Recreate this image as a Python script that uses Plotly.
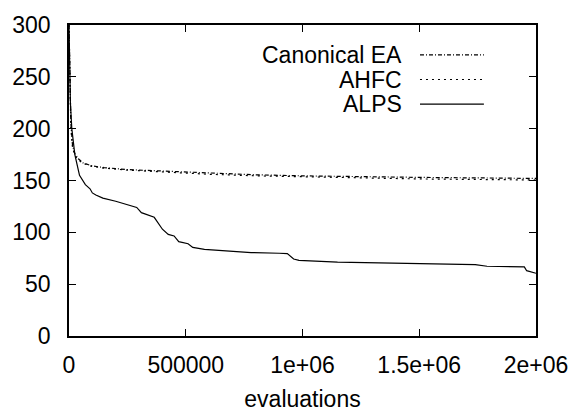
import plotly.graph_objects as go

# Best-so-far fitness versus number of evaluations
evals_ea = [0, 3000, 8000, 15000, 25000, 40000, 60000, 100000, 150000, 250000,
            400000, 600000, 800000, 1000000, 1250000, 1500000, 1750000, 2000000]
canonical_ea = [300, 250, 205, 184, 176, 171, 167, 164, 162.5, 160.5,
                159, 157, 155.5, 154.5, 153.5, 153, 152.5, 152]

evals_ahfc = [0, 3000, 8000, 15000, 25000, 40000, 60000, 100000, 150000, 250000,
              400000, 600000, 800000, 1000000, 1250000, 1500000, 1750000, 2000000]
ahfc = [300, 248, 200, 182, 174, 170, 166.5, 163.5, 162, 160,
        158, 156, 154.5, 153.5, 152.5, 151.5, 151, 150.5]

evals_alps = [0, 2000, 6000, 12000, 25000, 45000, 70000, 90000, 100000, 115000,
              145000, 200000, 260000, 290000, 310000, 345000, 365000, 400000,
              425000, 450000, 470000, 510000, 530000, 580000, 650000, 750000,
              780000, 900000, 935000, 962000, 985000, 1150000, 1450000, 1740000,
              1790000, 1950000, 1960000, 1985000, 2000000]
alps = [300, 260, 225, 200, 175, 155, 146, 142, 138, 136,
        133, 130, 126, 124, 119, 116, 114.5, 103,
        98, 96.5, 91, 89, 85.5, 83.5, 82.5, 81.5,
        80.5, 79.8, 79.5, 74.3, 73, 71.3, 69.8, 68.8,
        67.3, 66.7, 63, 61, 60.5]

x_tickvals = [0, 500000, 1000000, 1500000, 2000000]
x_ticktext = ["0", "500000", "1e+06", "1.5e+06", "2e+06"]
y_tickvals = [0, 50, 100, 150, 200, 250, 300]

series = [
    ("Canonical EA", evals_ea, canonical_ea, "4px,2px,1px,2px"),
    ("AHFC", evals_ahfc, ahfc, "2px,4px"),
    ("ALPS", evals_alps, alps, "solid"),
]

FONT = "Liberation Sans, Arial, Helvetica, sans-serif"
W, H = 580, 420
ML, MR, MT, MB = 65, 40, 15, 77
pw, ph = W - ML - MR, H - MT - MB

fig = go.Figure()
for name, xs, ys, dash in series:
    fig.add_trace(go.Scatter(x=xs, y=ys, mode="lines", name=name,
                             line=dict(color="black", width=1.2, dash=dash),
                             showlegend=False))

# gnuplot-style key: right-aligned label with a line sample after it
key_rows = [46.5, 72.5, 98.5]
for (name, _, _, dash), py in zip(series, key_rows):
    yp = (H - MB - py) / ph
    fig.add_annotation(xref="paper", yref="paper", x=(405 - ML) / pw, y=yp,
                       text=name, showarrow=False, xanchor="right", yanchor="middle",
                       borderpad=0,
                       font=dict(family=FONT, size=23, color="black"))
    fig.add_shape(type="line", xref="paper", yref="paper",
                  x0=(422 - ML) / pw, x1=(487 - ML) / pw, y0=yp, y1=yp,
                  line=dict(color="black", width=1.2, dash=dash))

axis_common = dict(showline=True, linecolor="black", linewidth=1.5, mirror="ticks",
                   ticks="inside", ticklen=7, tickcolor="black", tickwidth=1.2,
                   showgrid=False, zeroline=False,
                   tickfont=dict(family=FONT, size=23, color="black"))

fig.update_xaxes(range=[0, 2000000], tickvals=x_tickvals, ticktext=x_ticktext,
                 ticklabelstandoff=8,
                 title=dict(text="evaluations", standoff=14,
                            font=dict(family=FONT, size=23, color="black")),
                 **axis_common)
fig.update_yaxes(range=[0, 300], tickvals=y_tickvals,
                 ticklabelstandoff=12, **axis_common)

fig.update_layout(width=W, height=H, margin=dict(l=ML, r=MR, t=MT, b=MB),
                  plot_bgcolor="white", paper_bgcolor="white",
                  font=dict(family=FONT, size=23, color="black"))

fig.write_html("out.html")
